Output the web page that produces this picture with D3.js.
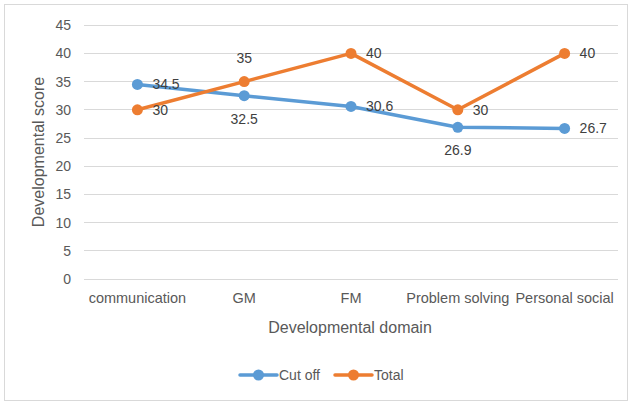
<!DOCTYPE html>
<html><head><meta charset="utf-8">
<script src="https://cdn.jsdelivr.net/npm/d3@7"></script>
<style>body{margin:0;background:#fff}svg{display:block;font-family:"Liberation Sans",Arial,sans-serif}</style>
</head><body>
<script>
const categories = ["communication","GM","FM","Problem solving","Personal social"];
const cutOff = [34.5, 32.5, 30.6, 26.9, 26.7];
const total = [30, 35, 40, 30, 40];
const yTicks = [0,5,10,15,20,25,30,35,40,45];
const seriesNames = ["Cut off","Total"];
// label placement per point: r = right, a = above, b = below
const cutOffLabelPos = ["r","b","r","b","r"];
const totalLabelPos = ["r","a","r","r","r"];

const W = 632, H = 403;
const svg = d3.select("body").append("svg").attr("width", W).attr("height", H);
svg.append("rect").attr("x",4.5).attr("y",4.5).attr("width",623).attr("height",396)
  .attr("fill","#fff").attr("stroke","#d9d9d9");

const x = d3.scaleBand().domain(categories).range([84, 618]);
const y = d3.scaleLinear().domain([0,45]).range([279, 25.2]);
const txt = "#595959";

// gridlines
svg.append("g").selectAll("line").data(yTicks).join("line")
  .attr("x1",84).attr("x2",618).attr("y1",d=>y(d)).attr("y2",d=>y(d))
  .attr("stroke","#d9d9d9").attr("stroke-width",1).attr("shape-rendering","crispEdges");

// y axis
const ya = svg.append("g").attr("transform","translate(84,0)")
  .call(d3.axisLeft(y).tickValues(yTicks).tickSize(0).tickPadding(13));
ya.select(".domain").remove();
ya.selectAll("text").attr("fill",txt).attr("font-size",14).attr("font-family","Liberation Sans, Arial");

// x axis
const xa = svg.append("g").attr("transform","translate(0,279)")
  .call(d3.axisBottom(x).tickSize(0).tickPadding(14));
xa.select(".domain").remove();
xa.selectAll("text").attr("fill",txt).attr("font-size",14.5).attr("font-family","Liberation Sans, Arial");

// axis titles
svg.append("text").attr("x",350).attr("y",333).attr("text-anchor","middle")
  .attr("fill",txt).attr("font-size",16).text("Developmental domain");
svg.append("text").attr("transform","translate(44,152) rotate(-90)").attr("text-anchor","middle")
  .attr("fill",txt).attr("font-size",16).text("Developmental score");

const colors = ["#5B9BD5","#ED7D31"];
const series = [cutOff, total];
const labelPos = [cutOffLabelPos, totalLabelPos];
const line = d3.line().x((d,i)=>x(categories[i])+x.bandwidth()/2).y(d=>y(d));

series.forEach((s,k)=>{
  svg.append("path").datum(s).attr("d",line).attr("fill","none")
    .attr("stroke",colors[k]).attr("stroke-width",3.5).attr("stroke-linejoin","round").attr("stroke-linecap","round");
  svg.append("g").selectAll("circle").data(s).join("circle")
    .attr("cx",(d,i)=>x(categories[i])+x.bandwidth()/2).attr("cy",d=>y(d)).attr("r",5.5).attr("fill",colors[k]);
});
series.forEach((s,k)=>{
  svg.append("g").selectAll("text").data(s).join("text")
    .attr("x",(d,i)=>{const cx=x(categories[i])+x.bandwidth()/2; return labelPos[k][i]==="r"? cx+15 : cx;})
    .attr("y",(d,i)=>{const cy=y(d); const p=labelPos[k][i]; return p==="a"? cy-24 : p==="b"? cy+23 : cy;})
    .attr("dy","0.35em")
    .attr("text-anchor",(d,i)=>labelPos[k][i]==="r"?"start":"middle")
    .attr("fill","#404040").attr("font-size",14).text(d=>d);
});

// legend
const leg = [{x1:240,x2:277,tx:279},{x1:335,x2:372,tx:374}];
leg.forEach((l,k)=>{
  const g = svg.append("g");
  g.append("line").attr("x1",l.x1).attr("x2",l.x2).attr("y1",375).attr("y2",375)
    .attr("stroke",colors[k]).attr("stroke-width",3.5).attr("stroke-linecap","round");
  g.append("circle").attr("cx",(l.x1+l.x2)/2).attr("cy",375).attr("r",5.5).attr("fill",colors[k]);
  g.append("text").attr("x",l.tx).attr("y",375).attr("dy","0.35em").attr("fill",txt).attr("font-size",14).text(seriesNames[k]);
});
</script>
</body></html>
